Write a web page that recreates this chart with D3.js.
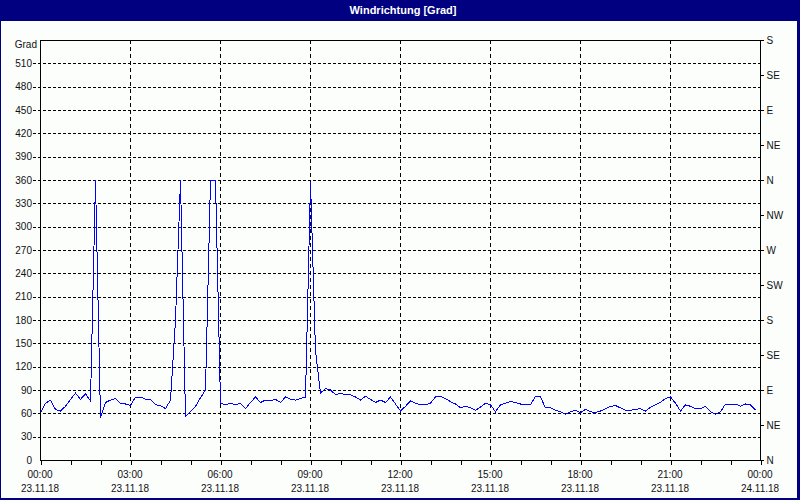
<!DOCTYPE html>
<html>
<head>
<meta charset="utf-8">
<script src="https://cdn.jsdelivr.net/npm/d3@7"></script>
<style>
  body { margin: 0; background: #fcfefc; }
  svg { display: block; font-family: "Liberation Sans", Arial, sans-serif; }
</style>
</head>
<body>
<svg id="chart"></svg>
<script>
// data, one value every 10 minutes from 23.11.18 00:00
const chartTitle = 'Windrichtung [Grad]';
const unitLabel = 'Grad';
const startTime = new Date(2018, 10, 23, 0, 0);
const endTime = new Date(2018, 10, 24, 0, 0);
const stepMinutes = 10;

const windDir = [
  60, 73, 77, 65, 63, 69, 78, 86, 78, 85,
  76, 360, 54, 74, 77, 79, 73, 72, 70, 81,
  81, 78, 78, 71, 70, 66, 77, 180, 360, 56,
  62, 69, 80, 90, 360, 360, 73, 71, 73, 71,
  73, 66, 74, 81, 74, 77, 76, 78, 74, 81,
  78, 77, 79, 81, 358, 140, 86, 92, 90, 84,
  86, 84, 84, 81, 77, 82, 78, 74, 77, 74,
  81, 72, 63, 69, 76, 73, 71, 71, 73, 81,
  82, 79, 75, 72, 67, 69, 67, 64, 68, 73,
  71, 62, 71, 73, 75, 74, 72, 72, 71, 82,
  81, 67, 67, 64, 62, 59, 62, 64, 61, 65,
  62, 61, 63, 66, 69, 70, 67, 64, 64, 65,
  66, 63, 68, 71, 74, 79, 81, 73, 63, 71,
  69, 66, 66, 69, 62, 59, 62, 72, 72, 72,
  69, 72, 71, 64
];

const gradTicks = [0, 30, 60, 90, 120, 150, 180, 210, 240, 270, 300, 330, 360, 390, 420, 450, 480, 510];
const compassTicks = [0, 45, 90, 135, 180, 225, 270, 315, 360, 405, 450, 495, 540];
const compassLabels = ['N', 'NE', 'E', 'SE', 'S', 'SW', 'W', 'NW', 'N', 'NE', 'E', 'SE', 'S'];
const yMax = 540;

const W = 800, H = 500;
const margin = { top: 40, right: 40, bottom: 40, left: 40 };
const width = W - margin.left - margin.right;
const height = H - margin.top - margin.bottom;

const root = d3.select('#chart')
  .attr('width', W)
  .attr('height', H);

root.append('rect')
  .attr('width', W).attr('height', H)
  .attr('fill', '#fcfefc');

// title bar + window frame
root.append('rect')
  .attr('x', 0).attr('y', 0)
  .attr('width', W).attr('height', 21)
  .attr('fill', '#000080');
root.append('text')
  .attr('x', W / 2 + 3).attr('y', 14)
  .attr('text-anchor', 'middle')
  .attr('fill', '#ffffff')
  .attr('font-size', '11px')
  .attr('font-weight', 'bold')
  .text(chartTitle);
root.append('rect').attr('x', 0).attr('y', 0).attr('width', 1).attr('height', H).attr('fill', '#000080');
root.append('rect').attr('x', W - 3).attr('y', 0).attr('width', 3).attr('height', H).attr('fill', '#000080');
root.append('rect').attr('x', 0).attr('y', H - 2).attr('width', W).attr('height', 2).attr('fill', '#000080');

const svg = root.append('g')
  .attr('transform', `translate(${margin.left},${margin.top})`);

const xScale = d3.scaleTime()
  .domain([startTime, endTime])
  .range([0, width]);

const yScale = d3.scaleLinear()
  .domain([0, yMax])
  .range([height, 0]);

const points = windDir.map((v, i) => ({ t: d3.timeMinute.offset(startTime, i * stepMinutes), v: v }));

// horizontal dashed grid (also sticks out left as tick)
svg.append('g')
  .selectAll('line')
  .data(gradTicks.filter(d => d > 0))
  .enter()
  .append('line')
  .attr('x1', -7).attr('x2', width)
  .attr('y1', d => Math.round(yScale(d)) + 0.5)
  .attr('y2', d => Math.round(yScale(d)) + 0.5)
  .attr('stroke', '#000')
  .attr('stroke-dasharray', '3,2')
  .attr('shape-rendering', 'crispEdges');

// vertical dashed grid every 3h
const majorTimes = d3.timeHour.every(3).range(startTime, d3.timeMinute.offset(endTime, 1));
svg.append('g')
  .selectAll('line')
  .data(majorTimes.filter(t => +t > +startTime && +t < +endTime))
  .enter()
  .append('line')
  .attr('x1', d => Math.round(xScale(d)) + 0.5)
  .attr('x2', d => Math.round(xScale(d)) + 0.5)
  .attr('y1', 0).attr('y2', height)
  .attr('stroke', '#000')
  .attr('stroke-dasharray', '4,3')
  .attr('shape-rendering', 'crispEdges');

// data line
const line = d3.line()
  .x(d => xScale(d.t) + 0.5)
  .y(d => yScale(d.v));

svg.append('path')
  .datum(points)
  .attr('d', line)
  .attr('fill', 'none')
  .attr('stroke', '#0000ff')
  .attr('stroke-width', 1)
  .attr('shape-rendering', 'crispEdges');

// plot frame
svg.append('rect')
  .attr('x', 0.5).attr('y', 0.5)
  .attr('width', width).attr('height', height)
  .attr('fill', 'none')
  .attr('stroke', '#000')
  .attr('shape-rendering', 'crispEdges');

// left axis labels
const yAxis = d3.axisLeft(yScale)
  .tickValues(gradTicks)
  .tickSize(0)
  .tickPadding(8);
const gy = svg.append('g').attr('class', 'axis').call(yAxis);
gy.select('.domain').remove();
gy.selectAll('text').attr('font-size', '10px').attr('fill', '#111').attr('font-family', null);

svg.append('text')
  .attr('x', -3).attr('y', 8)
  .attr('text-anchor', 'end')
  .attr('font-size', '10px')
  .attr('fill', '#111')
  .text(unitLabel);

// right compass axis
const yAxisR = d3.axisRight(yScale)
  .tickValues(compassTicks)
  .tickSize(3)
  .tickPadding(3)
  .tickFormat((d, i) => compassLabels[i]);
const gr = svg.append('g')
  .attr('transform', `translate(${width + 0.5},0)`)
  .call(yAxisR);
gr.select('.domain').remove();
gr.selectAll('line').attr('shape-rendering', 'crispEdges');
gr.selectAll('text').attr('font-size', '10px').attr('fill', '#111').attr('font-family', null);

// bottom ticks every hour
const xAxis = d3.axisBottom(xScale)
  .ticks(d3.timeHour.every(1))
  .tickSize(4)
  .tickFormat('');
const gx = svg.append('g')
  .attr('transform', `translate(0.5,${height + 0.5})`)
  .call(xAxis);
gx.select('.domain').remove();
gx.selectAll('line').attr('shape-rendering', 'crispEdges');

// two line time labels every 3h
const fmtTime = d3.timeFormat('%H:%M');
const fmtDate = d3.timeFormat('%d.%m.%y');
const lbl = svg.append('g')
  .selectAll('g')
  .data(majorTimes)
  .enter()
  .append('g')
  .attr('transform', d => `translate(${xScale(d)},${height})`)
  .attr('font-size', '10px')
  .attr('fill', '#111')
  .attr('text-anchor', 'middle');
lbl.append('text').attr('y', 18).text(d => fmtTime(d));
lbl.append('text').attr('y', 32).text(d => fmtDate(d));
</script>
</body>
</html>
